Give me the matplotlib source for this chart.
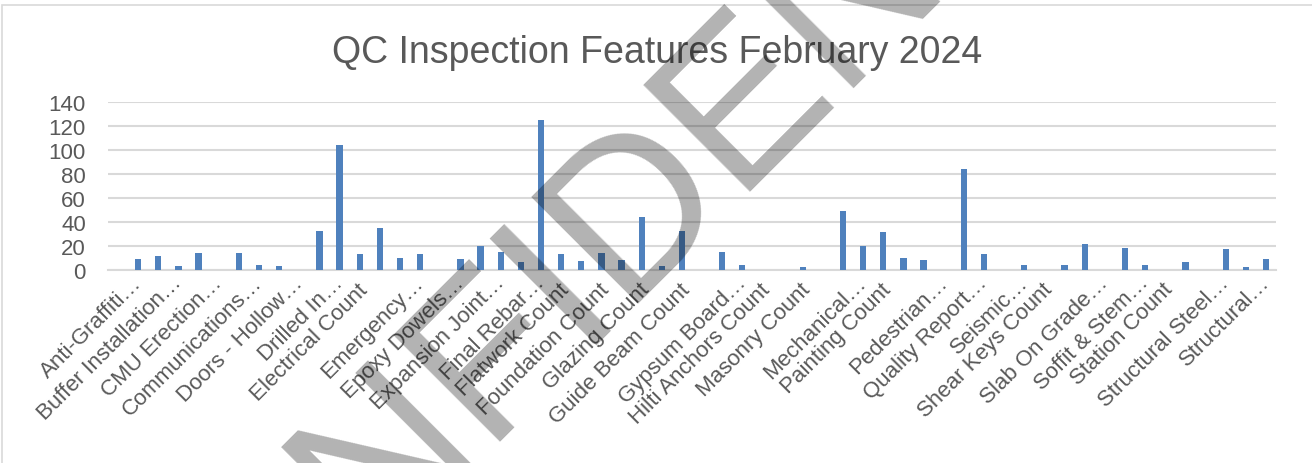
import matplotlib.pyplot as plt
from matplotlib.patches import Rectangle
from matplotlib.transforms import ScaledTranslation

# tick labels shown on the axis (every other category)
shown_labels = ["Anti-Graffiti…", "Buffer Installation…", "CMU Erection…", "Communications…",
                "Doors - Hollow…", "Drilled In…", "Electrical Count", "Emergency…",
                "Epoxy Dowels…", "Expansion Joint…", "Final Rebar…", "Flatwork Count",
                "Foundation Count", "Glazing Count", "Guide Beam Count", "Gypsum Board…",
                "Hilti Anchors Count", "Masonry Count", "Mechanical…", "Painting Count",
                "Pedestrian…", "Quality Report…", "Seismic…", "Shear Keys Count",
                "Slab On Grade…", "Soffit & Stem…", "Station Count", "Structural Steel…",
                "Structural…"]

# counts per feature, 58 categories
counts = [0, 9, 11, 3, 14, 0, 14, 4, 3, 0,
          32, 104, 13, 35, 10, 13, 0, 9, 20, 15,
          6, 125, 13, 7, 14, 8, 44, 3, 32, 0,
          15, 4, 0, 0, 2, 0, 49, 20, 31, 10,
          8, 0, 84, 13, 0, 4, 0, 4, 21, 0,
          18, 4, 0, 6, 0, 17, 2, 9]

grey = "#595959"
font = "Liberation Sans"

fig = plt.figure(figsize=(13.12, 4.64), dpi=100)
ax = fig.add_axes([0.0823, 0.4166, 0.8903, 0.3621])

x = list(range(len(counts)))
ax.bar(x, counts, width=0.31, color="#4F81BD", zorder=3)

ax.set_xlim(-0.5, len(counts) - 0.5)
ax.set_ylim(0, 140)
ax.set_yticks(range(0, 141, 20))
ax.yaxis.grid(True, color="#D9D9D9", linewidth=1.5, zorder=0)
ax.tick_params(axis="y", length=0, pad=16, labelsize=16, labelcolor=grey)
for lab in ax.get_yticklabels():
    lab.set_fontfamily(font)

ax.set_xticks(x[::2])
ax.set_xticklabels(shown_labels, rotation=45, ha="right", rotation_mode="anchor",
                   fontsize=16, color=grey, fontfamily=font)
ax.tick_params(axis="x", length=0, pad=8)
# truncated labels sit a bit further along in the original
for lab in ax.get_xticklabels():
    if lab.get_text().endswith("…"):
        lab.set_transform(lab.get_transform() + ScaledTranslation(0.13, 0.09, fig.dpi_scale_trans))
    else:
        lab.set_transform(lab.get_transform() + ScaledTranslation(-0.03, 0.02, fig.dpi_scale_trans))

for side in ["top", "right", "left"]:
    ax.spines[side].set_visible(False)
ax.spines["bottom"].set_color("#D9D9D9")
ax.spines["bottom"].set_linewidth(1.5)

fig.text(0.501, 0.885, "QC Inspection Features February 2024", ha="center", va="center",
         fontsize=27, color=grey, fontfamily=font)

# chart border
fig.patches.append(Rectangle((2 / 1312, -0.1), 1.2, 1 - 6 / 464 + 0.1, transform=fig.transFigure,
                             fill=False, edgecolor="#D9D9D9", linewidth=1.2))

# watermark
fig.text(0.510, 0.61, "CONFIDENTIAL", ha="center", va="center", rotation=45,
         rotation_mode="anchor", fontsize=158, color="black", alpha=0.3,
         fontfamily=font, zorder=10)

fig.savefig("out.png", dpi=100)
